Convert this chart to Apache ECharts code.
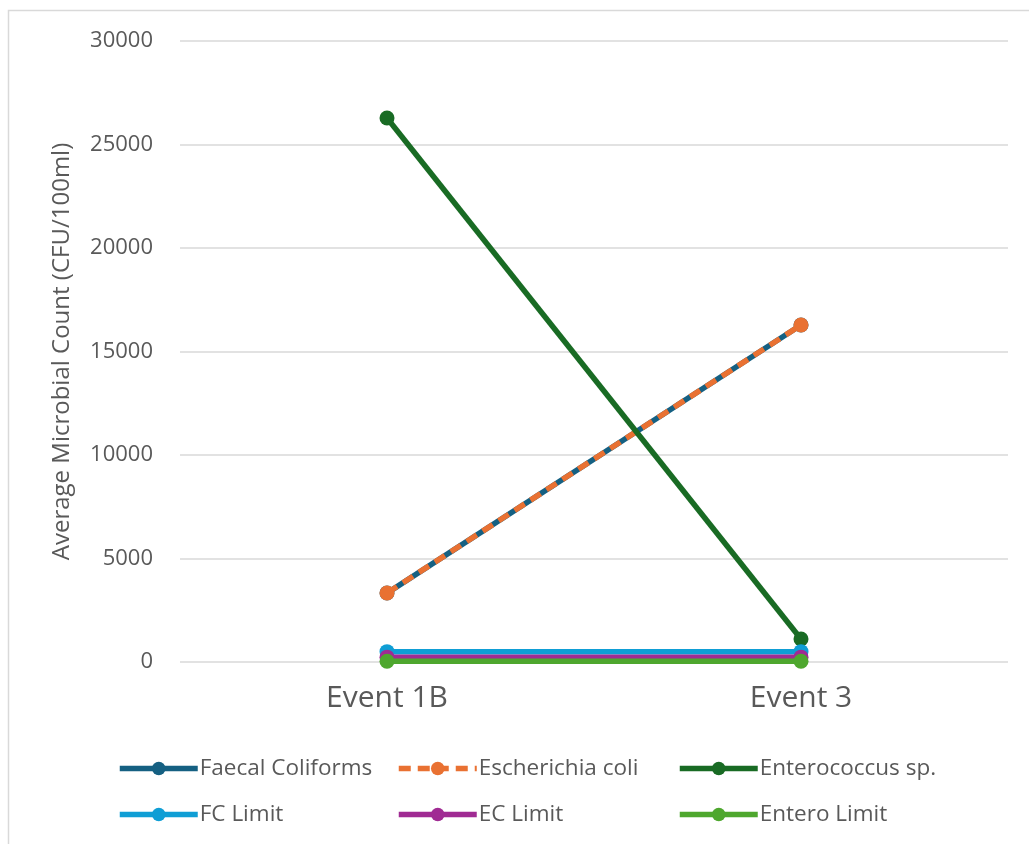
<!DOCTYPE html>
<html><head><meta charset="utf-8">
<script src="https://cdn.jsdelivr.net/npm/echarts@6/dist/echarts.min.js"></script>
<style>html,body{margin:0;padding:0;background:#fff}#c{width:1029px;height:844px}</style>
</head><body><div id="c"></div>
<script>
const categories = ['Event 1B', 'Event 3'];
const faecalColiforms = [3330, 16280];
const escherichiaColi = [3330, 16280];
const enterococcus = [26280, 1110];
const fcLimit = [500, 500];
const ecLimit = [235, 235];
const enteroLimit = [35, 35];
const seriesNames = ['Faecal Coliforms', 'Escherichia coli', 'Enterococcus sp.', 'FC Limit', 'EC Limit', 'Entero Limit'];
const seriesData = [faecalColiforms, escherichiaColi, enterococcus, fcLimit, ecLimit, enteroLimit];
const colors = ['#156082', '#E97132', '#196B24', '#0F9ED5', '#A02B93', '#4EA72E'];

const legendPos = [[112, 752], [391, 752], [672, 752], [112, 798], [391, 798], [672, 798]];
const font = '"Open Sans", Roboto, sans-serif';

const chart = echarts.init(document.getElementById('c'));
chart.setOption({
  animation: false,
  graphic: [{type: 'rect', shape: {x: 8.5, y: 10.5, width: 1030, height: 840}, style: {fill: 'none', stroke: '#d9d9d9', lineWidth: 1.5}}],
  grid: {left: 180, right: 21, top: 41, bottom: 182},
  legend: seriesNames.map((n, i) => ({
    data: [n], left: legendPos[i][0], top: legendPos[i][1],
    itemWidth: 78, itemHeight: 17, itemGap: 0,
    lineStyle: {width: 5.5},
    textStyle: {fontFamily: font, fontSize: 22.5, color: '#595959', padding: [0, 0, 0, -3]}
  })),
  xAxis: {
    type: 'category', data: categories, boundaryGap: true,
    axisLine: {show: false}, axisTick: {show: false},
    axisLabel: {fontFamily: font, fontSize: 30, color: '#595959', margin: 21}
  },
  yAxis: {
    type: 'value', min: 0, max: 30000, interval: 5000,
    name: 'Average Microbial Count (CFU/100ml)', nameLocation: 'middle', nameGap: 106,
    nameTextStyle: {fontFamily: font, fontSize: 24, color: '#595959'},
    axisLabel: {fontFamily: font, fontSize: 22, color: '#595959', margin: 27, formatter: v => String(v)},
    splitLine: {lineStyle: {color: '#d9d9d9', width: 1.5}},
    axisLine: {show: false}, axisTick: {show: false}
  },
  series: seriesNames.map((n, i) => ({
    name: n, type: 'line', data: seriesData[i],
    symbol: 'circle', symbolSize: 15,
    itemStyle: {color: colors[i]},
    lineStyle: {color: colors[i], width: 5.5, type: i === 1 ? [12, 7] : 'solid'},
    z: 2 + i
  }))
});
</script></body></html>
